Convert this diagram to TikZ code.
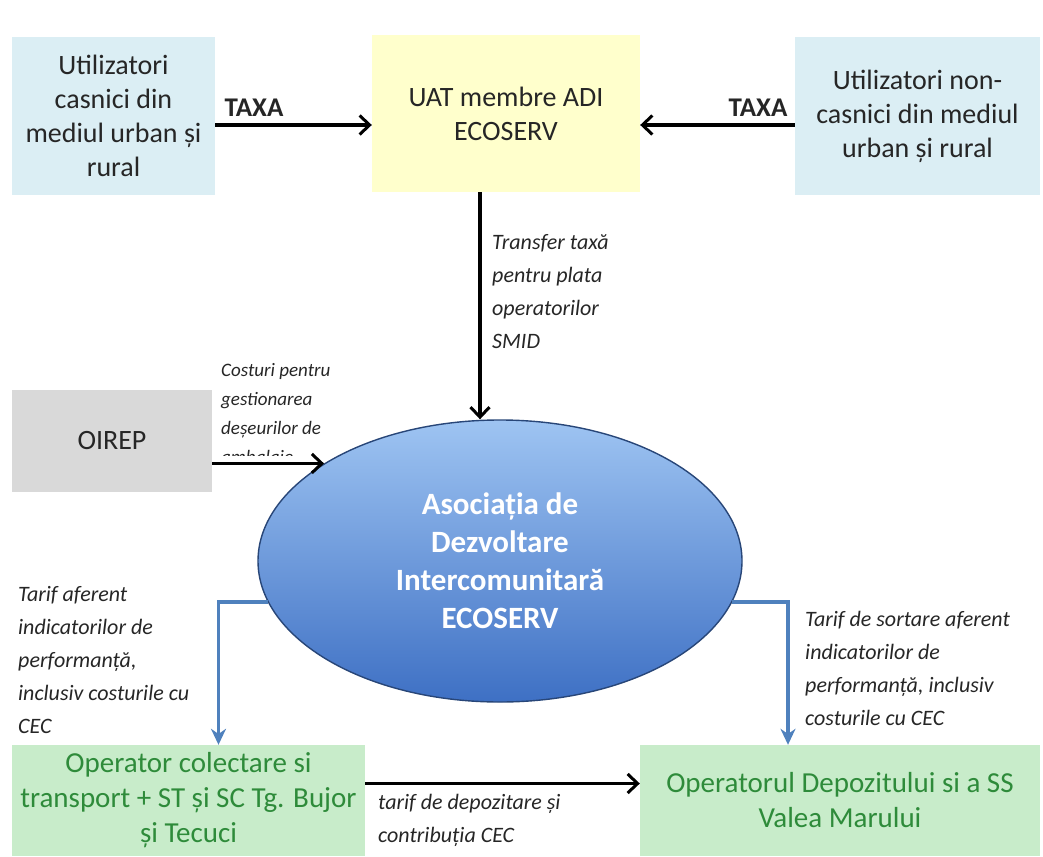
\documentclass[tikz,border=0pt]{standalone}
\usepackage{fontspec}
\setmainfont{Carlito}
\usetikzlibrary{shapes.geometric,arrows.meta}
\definecolor{boxblue}{RGB}{219,238,244}
\definecolor{boxyellow}{RGB}{255,255,204}
\definecolor{boxgray}{RGB}{217,217,217}
\definecolor{boxgreen}{RGB}{200,236,202}
\definecolor{textgreen}{RGB}{46,139,58}
\definecolor{elltop}{RGB}{158,196,242}
\definecolor{ellbottom}{RGB}{62,112,196}
\definecolor{ellborder}{RGB}{40,70,120}
\definecolor{linkblue}{RGB}{79,129,189}
\definecolor{txt}{RGB}{38,38,38}
\begin{document}
\begin{tikzpicture}[x=1pt, y=-1pt,
    box/.style={inner sep=2pt, align=center, text=txt, font=\fontsize{28}{34}\selectfont},
    greenbox/.style={box, fill=boxgreen, text=textgreen, minimum height=111pt, font=\fontsize{29}{35}\selectfont},
    lbl/.style={inner sep=0pt, align=left, anchor=north west, text=txt, font=\fontsize{22}{33}\selectfont\itshape},
    blk/.style={line width=3.4pt, -{Straight Barb[length=10pt,width=19pt,line width=3pt]}},
    blu/.style={line width=3.2pt, linkblue, -{Stealth[length=16pt,width=15pt]}}]
    \useasboundingbox (0,0) rectangle (1043,856);
    \path   node[box, fill=boxblue, minimum width=203pt, minimum height=158pt] (utc) at (113.5,116) {Utilizatori\\casnici din\\mediul urban și\\rural}
            node[box, fill=boxyellow, minimum width=268pt, minimum height=157pt] (uat) at (506,113.5) {UAT membre ADI\\ECOSERV}
            node[box, fill=boxblue, minimum width=245pt, minimum height=158pt] (utn) at (917.5,116) {Utilizatori non-\\casnici din mediul\\urban și rural}
            node[box, fill=boxgray, minimum width=200pt, minimum height=102pt] (oirep) at (112,441) {OIREP}
            node[ellipse, draw=ellborder, line width=1.4pt, top color=elltop, bottom color=ellbottom,
                 minimum width=484pt, minimum height=282pt, align=center, text=white,
                 font=\fontsize{31}{38}\selectfont\bfseries] (adi) at (500,561) {Asociația de\\Dezvoltare\\Intercomunitară\\ECOSERV}
            node[greenbox, minimum width=353pt] (opc) at (188.5,800.5) {Operator colectare si\\transport + ST și SC Tg. Bujor\\și Tecuci}
            node[greenbox, minimum width=400pt] (opd) at (840,800.5) {Operatorul Depozitului si a SS\\Valea Marului};
    % etichete
    \path   node[text=txt, font=\fontsize{27}{30}\selectfont\bfseries] (taxa1) at (254,108) {TAXA}
            node[text=txt, font=\fontsize{27}{30}\selectfont\bfseries] (taxa2) at (758,108) {TAXA}
            node[lbl] (trf) at (492,234) {Transfer taxă\\pentru plata\\operatorilor\\SMID}
            node[lbl] (tarc) at (18,586) {Tarif aferent\\indicatorilor de\\performanță,\\inclusiv costurile cu\\CEC}
            node[lbl] (tars) at (805,611) {Tarif de sortare aferent\\indicatorilor de\\performanță, inclusiv\\costurile cu CEC}
            node[lbl] (tard) at (378,794) {tarif de depozitare și\\contribuția CEC};
    \begin{scope}
        \clip (215,340) rectangle (420,455);
        \node[lbl, font=\fontsize{19}{29}\selectfont\itshape] (cst) at (221,363) {Costuri pentru\\gestionarea\\deșeurilor de\\ambalaje};
    \end{scope}
    \draw[blk] ([yshift=-9pt]utc.east) -- ([yshift=-9pt]utc.east -| uat.west);
    \draw[blk] ([yshift=-9pt]utn.west) -- ([yshift=-9pt]utn.west -| uat.east);
    \draw[blk] ([xshift=-26pt]uat.south) -- ([xshift=-26pt]uat.south |- adi.north);
    \draw[blk] (oirep.east |- adi.151) -- (adi.151);
    \draw[blu] (adi.190) -| ([xshift=30pt]opc.north);
    \draw[blu] (adi.350) -| ([xshift=-52pt]opd.north);
    \draw[blk] ([yshift=17pt]opc.east) -- ([yshift=17pt]opd.west);
\end{tikzpicture}
\end{document}
